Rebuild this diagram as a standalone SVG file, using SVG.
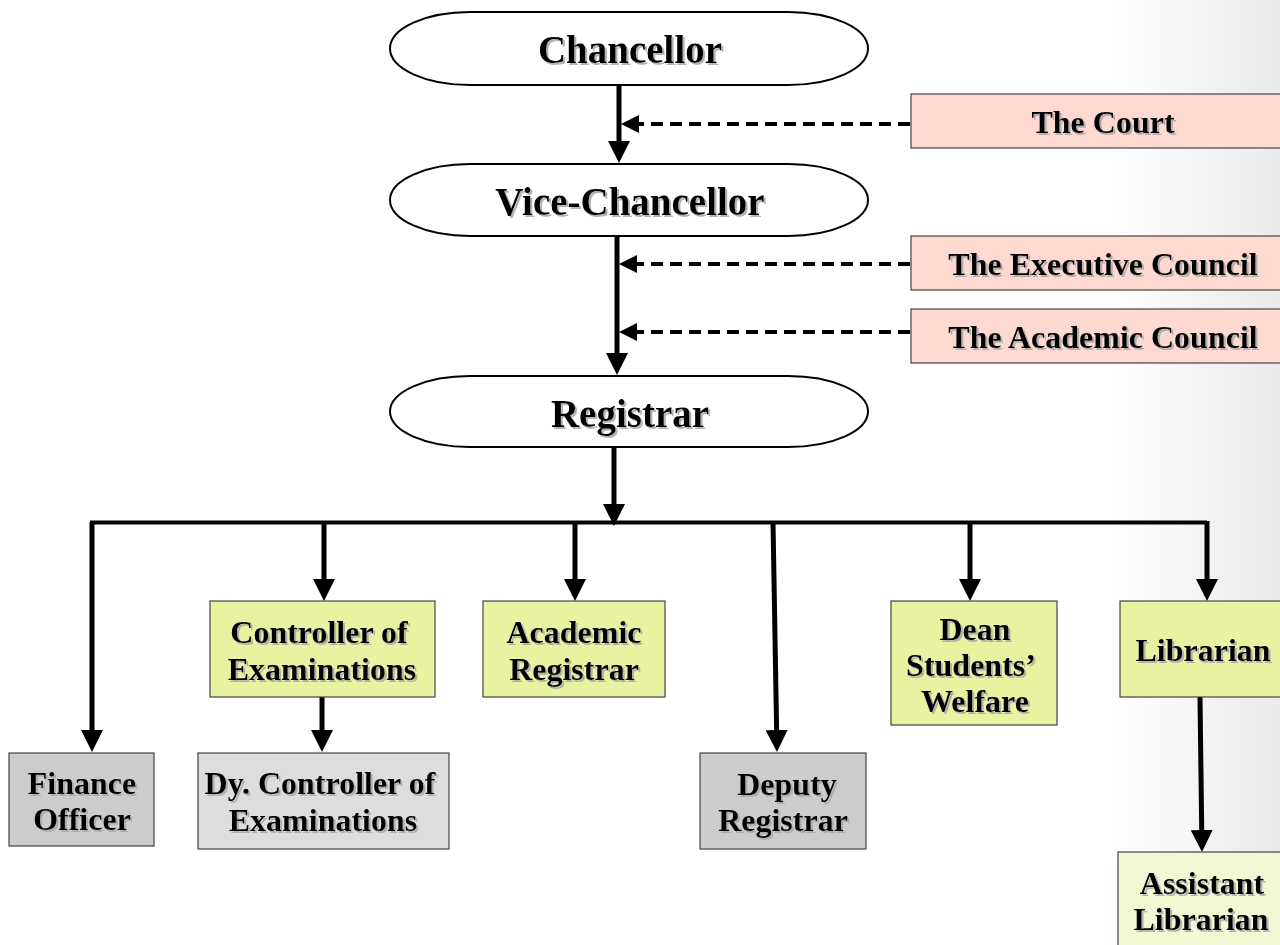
<svg xmlns="http://www.w3.org/2000/svg" width="1280" height="945" viewBox="0 0 1280 945">
<defs>
<linearGradient id="bg" x1="0" y1="0" x2="1280" y2="0" gradientUnits="userSpaceOnUse">
<stop offset="0" stop-color="#ffffff"/>
<stop offset="0.87" stop-color="#ffffff"/>
<stop offset="1" stop-color="#eaeaea"/>
</linearGradient>
<filter id="sh" x="-10%" y="-20%" width="120%" height="150%">
<feDropShadow dx="2" dy="2" stdDeviation="0.6" flood-color="#a8a8a8" flood-opacity="0.85"/>
</filter>
<marker id="ah" markerUnits="userSpaceOnUse" markerWidth="22" markerHeight="22" refX="10" refY="11" orient="auto" viewBox="0 0 22 22">
<path d="M0,0 L22,11 L0,22 z" fill="#000"/>
</marker>
<marker id="ahs" markerUnits="userSpaceOnUse" markerWidth="18" markerHeight="18" refX="8" refY="9" orient="auto" viewBox="0 0 18 18">
<path d="M0,0 L18,9 L0,18 z" fill="#000"/>
</marker>
<style>
.stad{fill:#fff;stroke:#000;stroke-width:2}
.box{stroke:#444;stroke-width:1.2}
.peach{fill:#fdd9cf}
.lime{fill:#e8f2a0}
.gray{fill:#cccccc}
.lgray{fill:#dddddd}
.pale{fill:#f4f7d4}
.t{font-family:"Liberation Serif","Times New Roman",serif;font-weight:bold;fill:#000;text-anchor:middle;filter:url(#sh)}
.big{font-size:39px}
.mid{font-size:32px}
.ln{stroke:#000;stroke-width:5;fill:none}
.bar{stroke:#000;stroke-width:4;fill:none}
.dash{stroke:#000;stroke-width:4;fill:none;stroke-dasharray:12 7}
</style>
</defs>
<rect x="0" y="0" width="1280" height="945" fill="url(#bg)"/>

<g id="connectors">
<line class="ln" x1="619" y1="85" x2="619" y2="151" marker-end="url(#ah)"/>
<line class="dash" x1="910" y1="124" x2="631" y2="124" marker-end="url(#ahs)"/>
<line class="ln" x1="617" y1="236" x2="617" y2="363" marker-end="url(#ah)"/>
<line class="dash" x1="910" y1="264" x2="629" y2="264" marker-end="url(#ahs)"/>
<line class="dash" x1="910" y1="332" x2="629" y2="332" marker-end="url(#ahs)"/>
<line class="ln" x1="614" y1="447" x2="614" y2="514" marker-end="url(#ah)"/>
<polyline class="bar" points="92,540 92,522.5 1207,522.5"/>
<line class="ln" x1="92" y1="522" x2="92" y2="740" marker-end="url(#ah)"/>
<line class="ln" x1="324" y1="522" x2="324" y2="589" marker-end="url(#ah)"/>
<line class="ln" x1="575" y1="522" x2="575" y2="589" marker-end="url(#ah)"/>
<line class="ln" x1="773" y1="522" x2="776.8" y2="740" marker-end="url(#ah)"/>
<line class="ln" x1="970" y1="522" x2="970" y2="589" marker-end="url(#ah)"/>
<line class="ln" x1="1207" y1="521" x2="1207" y2="589" marker-end="url(#ah)"/>
<line class="ln" x1="322" y1="697" x2="322" y2="740" marker-end="url(#ah)"/>
<line class="ln" x1="1200" y1="697" x2="1201.85" y2="840" marker-end="url(#ah)"/>
</g>

<g id="chancellor">
<rect class="stad" x="390" y="12" width="478" height="73" rx="80" ry="36.5"/>
<text class="t big" x="630" y="63">Chancellor</text>
</g>
<g id="vice-chancellor">
<rect class="stad" x="390" y="164" width="478" height="72" rx="80" ry="36"/>
<text class="t big" x="630" y="215">Vice-Chancellor</text>
</g>
<g id="registrar">
<rect class="stad" x="390" y="376" width="478" height="71" rx="80" ry="35.5"/>
<text class="t big" x="630" y="427">Registrar</text>
</g>

<g id="court">
<rect class="box peach" x="911" y="94" width="375" height="54"/>
<text class="t mid" x="1103" y="133">The Court</text>
</g>
<g id="executive-council">
<rect class="box peach" x="911" y="236" width="375" height="54"/>
<text class="t mid" x="1103" y="275">The Executive Council</text>
</g>
<g id="academic-council">
<rect class="box peach" x="911" y="309" width="375" height="54"/>
<text class="t mid" x="1103" y="348">The Academic Council</text>
</g>

<g id="controller">
<rect class="box lime" x="210" y="601" width="225" height="96"/>
<text class="t mid" x="319" y="643">Controller of</text>
<text class="t mid" x="322" y="680">Examinations</text>
</g>
<g id="academic-registrar">
<rect class="box lime" x="483" y="601" width="182" height="96"/>
<text class="t mid" x="574" y="643">Academic</text>
<text class="t mid" x="574" y="680">Registrar</text>
</g>
<g id="dean">
<rect class="box lime" x="891" y="601" width="166" height="124"/>
<text class="t mid" x="975" y="640">Dean</text>
<text class="t mid" x="971" y="676">Students’</text>
<text class="t mid" x="975" y="712">Welfare</text>
</g>
<g id="librarian">
<rect class="box lime" x="1120" y="601" width="166" height="96"/>
<text class="t mid" x="1203" y="661">Librarian</text>
</g>
<g id="finance-officer">
<rect class="box gray" x="9" y="753" width="145" height="93"/>
<text class="t mid" x="82" y="794">Finance</text>
<text class="t mid" x="82" y="830">Officer</text>
</g>
<g id="dy-controller">
<rect class="box lgray" x="198" y="753" width="251" height="96"/>
<text class="t mid" x="320" y="794">Dy. Controller of</text>
<text class="t mid" x="323" y="831">Examinations</text>
</g>
<g id="deputy-registrar">
<rect class="box gray" x="700" y="753" width="166" height="96"/>
<text class="t mid" x="787" y="795">Deputy</text>
<text class="t mid" x="783" y="831">Registrar</text>
</g>
<g id="assistant-librarian">
<rect class="box pale" x="1118" y="852" width="170" height="100"/>
<text class="t mid" x="1202" y="894">Assistant</text>
<text class="t mid" x="1201" y="930">Librarian</text>
</g>
</svg>
